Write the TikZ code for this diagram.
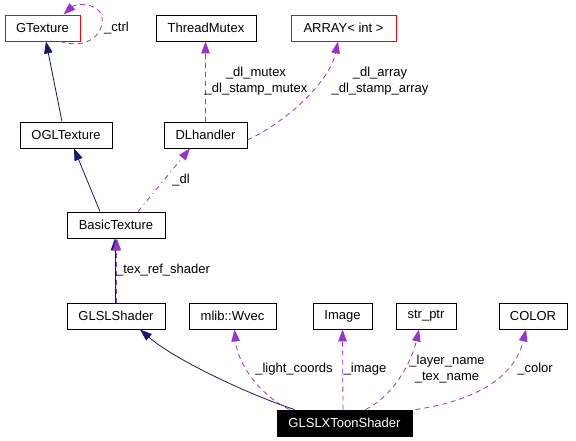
\documentclass[tikz,border=0pt]{standalone}
\usepackage{fontspec}
\newfontfamily\dfont{Liberation Sans}
\usetikzlibrary{arrows.meta}
\definecolor{navyc}{RGB}{25,25,112}
\definecolor{purpc}{RGB}{154,50,205}
\begin{document}
\begin{tikzpicture}[x=1pt,y=-1pt,
  cls/.style={draw=black, line width=0.9pt, minimum height=26pt, inner sep=0pt, font=\dfont\fontsize{13}{16}\selectfont},
  redcls/.style={cls, draw=red},
  lbl/.style={inner sep=0pt, align=center, font=\dfont\fontsize{13}{16}\selectfont},
  inh/.style={draw=navyc, line width=0.8pt, -{Triangle[length=12pt,width=8.5pt]}, fill=none},
  use/.style={draw=purpc, line width=0.8pt, dash pattern=on 5pt off 4pt, -{Triangle[length=12pt,width=8.5pt]}},
  usedd/.style={use, dash pattern=on 5pt off 4pt on 1pt off 4pt},
  ]
\useasboundingbox (0,0) rectangle (576,441);
% nodes
\node[redcls, minimum width=75pt] (gtex) at (42.5,28) {GTexture};
\node[cls, minimum width=100pt] (tmut) at (206,28) {ThreadMutex};
\node[redcls, minimum width=105pt] (arr) at (343.5,28) {ARRAY< int >};
\node[cls, minimum width=92pt] (ogl) at (66,135) {OGLTexture};
\node[cls, minimum width=83pt] (dlh) at (205.5,135) {DLhandler};
\node[cls, minimum width=98pt] (btex) at (116,225) {BasicTexture};
\node[cls, minimum width=98pt] (glsl) at (116,316) {GLSLShader};
\node[cls, minimum width=87pt] (wvec) at (232.5,316) {mlib::Wvec};
\node[cls, minimum width=59pt] (img) at (342.5,316) {Image};
\node[cls, minimum width=60pt] (strp) at (426,316) {str\_ptr};
\node[cls, minimum width=68pt] (col) at (533,316) {COLOR};
\node[cls, minimum width=135pt, fill=black, text=white] (toon) at (344.5,423) {GLSLXToonShader};
% inheritance edges
\draw[inh] ([xshift=-4pt]ogl.north) -- ([xshift=3.5pt]gtex.south);
\draw[inh] ([xshift=-16pt]btex.north) -- ([xshift=8pt]ogl.south);
\draw[inh] ([xshift=-1pt]glsl.north) -- ([xshift=-1pt]btex.south);
\draw[inh] ([xshift=-50pt]toon.north) .. controls (250,395) and (175,360) .. ([xshift=24pt]glsl.south);
% usage edges
\draw[use] ([xshift=17.5pt]gtex.south) .. controls (95,52) and (108,25) .. (100,12)
  .. controls (92,2) and (75,4) .. ([xshift=21pt]gtex.north);
\node[lbl, anchor=west] (lctrl) at (104,28) {\_ctrl};
\draw[use] ([xshift=0.8pt]glsl.north) -- ([xshift=0.8pt]btex.south);
\node[lbl] (ltex) at (163,270) {\_tex\_ref\_shader};
\draw[usedd] ([xshift=22pt]btex.north) -- ([xshift=-15.5pt]dlh.south);
\node[lbl] (ldl) at (181,180) {\_dl};
\draw[use] (dlh.north) -- ([xshift=-0.5pt]tmut.south);
\node[lbl] (lmut) at (256,81) {\_dl\_mutex\\\_dl\_stamp\_mutex};
\draw[use] ([yshift=-5pt]dlh.east) .. controls (290,120) and (330,80) .. ([xshift=-5.5pt]arr.south);
\node[lbl] (larr) at (380,81) {\_dl\_array\\\_dl\_stamp\_array};
\draw[use] ([xshift=-55pt]toon.north) .. controls (260,395) and (238,365) .. ([xshift=2pt]wvec.south);
\node[lbl] (llc) at (294,369) {\_light\_coords};
\draw[use] ([xshift=-1.5pt]toon.north) -- (img.south);
\node[lbl] (limg) at (365,369) {\_image};
\draw[use] ([xshift=21pt]toon.north) .. controls (395,395) and (412,360) .. ([xshift=-7pt]strp.south);
\node[lbl] (lstr) at (447,369) {\_layer\_name\\\_tex\_name};
\draw[use] ([xshift=71pt]toon.north) .. controls (480,400) and (515,375) .. ([xshift=-7pt]col.south);
\node[lbl] (lcol) at (535,369) {\_color};
\end{tikzpicture}
\end{document}
